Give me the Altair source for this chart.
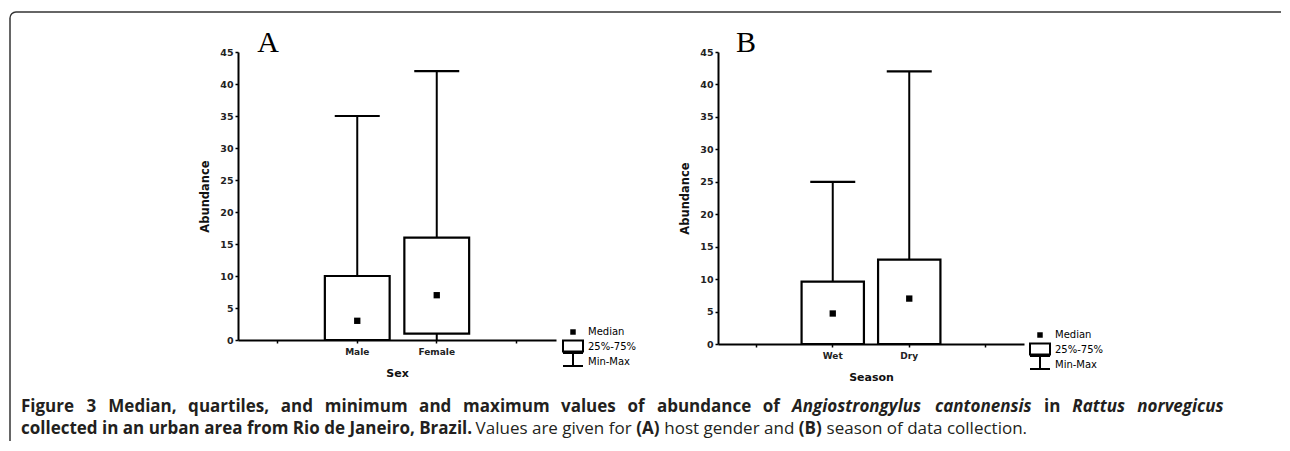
import math
import altair as alt
import pandas as pd

# ---------------- data ----------------
sex_domain = ["", "Male", "Female", " "]
sex_cats = ["Male", "Female"]
sex_min = [0, 0]
sex_q1 = [0, 1]
sex_med = [3, 7]
sex_q3 = [10, 16]
sex_max = [35, 42]

season_domain = ["", "Wet", "Dry", " "]
season_cats = ["Wet", "Dry"]
season_min = [0, 0]
season_q1 = [0, 0]
season_med = [4.7, 7]
season_q3 = [9.6, 13]
season_max = [25, 42]

y_ticks = [0, 5, 10, 15, 20, 25, 30, 35, 40, 45]

legend_labels = ["Median", "25%-75%", "Min-Max"]

# caption: (text, weight, style)
caption_line1 = [
    ("Figure 3 Median, quartiles, and minimum and maximum values of abundance of", "bold", "normal"),
    ("Angiostrongylus cantonensis", "bold", "italic"),
    ("in", "bold", "normal"),
    ("Rattus norvegicus", "bold", "italic"),
]
caption_line2 = [
    ("collected in an urban area from Rio de Janeiro, Brazil.", "bold", "normal"),
    ("Values are given for", "normal", "normal"),
    ("(A)", "bold", "normal"),
    ("host gender and", "normal", "normal"),
    ("(B)", "bold", "normal"),
    ("season of data collection.", "normal", "normal"),
]

AXFONT = "DejaVu Sans"
CAPFONT = "Open Sans"
CAPSIZE = 17
one = pd.DataFrame({"k": [0]})

# approximate Open Sans advance widths (em) for text layout of the caption
REG = dict(zip(" abcdefghijklmnopqrstuvwxyz,.()", [
    .26, .556, .613, .476, .613, .561, .339, .548, .614, .253, .253, .53, .253, .93,
    .614, .604, .613, .613, .408, .477, .353, .614, .501, .778, .524, .502, .47,
    .245, .266, .297, .297]))
REG.update({"A": .633, "B": .64, "F": .532, "M": .855, "R": .63, "J": .27, "V": .59})
BOLD = dict(zip(" abcdefghijklmnopqrstuvwxyz,.()", [
    .26, .586, .638, .511, .638, .593, .40, .567, .656, .304, .304, .61, .304, .974,
    .656, .618, .638, .638, .454, .497, .43, .656, .575, .858, .582, .575, .50,
    .283, .285, .345, .345]))
BOLD.update({"A": .704, "B": .68, "F": .576, "M": .927, "R": .68, "J": .342, "V": .667})


def text_width(s, weight, style):
    tab = BOLD if weight == "bold" else REG
    w = sum(tab.get(c, .572) for c in s)
    if style == "italic":
        w *= 0.95
    return w * CAPSIZE


def txt(text, x, y, size=10, weight="normal", style="normal", font=AXFONT,
        align="left", baseline="middle", color="black"):
    return alt.Chart(one).mark_text(
        text=text, font=font, fontSize=size, fontWeight=weight, fontStyle=style,
        align=align, baseline=baseline, color=color,
    ).encode(x=alt.value(x), y=alt.value(y))


def rule(x1, y1, x2, y2, w=2, color="black"):
    return alt.Chart(one).mark_rule(color=color, strokeWidth=w).encode(
        x=alt.value(x1), y=alt.value(y1), x2=alt.value(x2), y2=alt.value(y2)
    )


def panel(domain, cats, mn, q1, med, q3, mx, xtitle, w, h, letter, letter_x, leg):
    df = pd.DataFrame({"cat": cats, "mn": mn, "q1": q1, "med": med, "q3": q3, "mx": mx})
    xs = alt.Scale(domain=domain, paddingInner=0, paddingOuter=0)
    ys = alt.Scale(domain=[0, 45], nice=False, zero=True)
    xax = alt.Axis(
        title=xtitle, labelAngle=0, domainColor="black", domainWidth=2,
        tickColor="black", tickWidth=1.5, tickSize=3, labelPadding=4,
        labelFont=AXFONT, labelFontSize=9, labelFontWeight="bold", labelColor="#222",
        titleFont=AXFONT, titleFontSize=11, titleFontWeight="bold", titleColor="#111",
        titlePadding=11, grid=False,
    )
    yax = alt.Axis(
        title="Abundance", values=y_ticks, domainColor="black", domainWidth=2,
        tickColor="black", tickWidth=1.5, tickSize=3, labelPadding=2,
        labelFont=AXFONT, labelFontSize=9.5, labelFontWeight="bold", labelColor="#222",
        titleFont=AXFONT, titleFontSize=11.5, titleFontWeight="bold", titleColor="#111",
        titlePadding=9, grid=False,
    )
    X = alt.X("cat:N", scale=xs, axis=xax, sort=domain)
    base = alt.Chart(df)
    upper = base.mark_rule(color="black", strokeWidth=2).encode(
        x=X, y=alt.Y("q3:Q", scale=ys, axis=yax), y2="mx:Q")
    lower = base.mark_rule(color="black", strokeWidth=2).encode(
        x=X, y=alt.Y("mn:Q", scale=ys, axis=yax), y2="q1:Q")
    box = base.mark_bar(width=alt.RelativeBandSize(0.815), fill="white", stroke="black",
                        strokeWidth=2.2).encode(
        x=X, y=alt.Y("q1:Q", scale=ys, axis=yax), y2="q3:Q")
    cap = base.mark_tick(size=45, thickness=2.2, color="black", orient="horizontal",
                         opacity=1).encode(
        x=X, y=alt.Y("mx:Q", scale=ys, axis=yax))
    medp = base.mark_square(size=40, color="black", opacity=1).encode(
        x=X, y=alt.Y("med:Q", scale=ys, axis=yax))

    lx, ly = leg
    legend_layers = [
        alt.Chart(one).mark_square(size=30, color="black", opacity=1).encode(
            x=alt.value(lx + 10), y=alt.value(ly)),
        alt.Chart(one).mark_rect(fill="white", stroke="black", strokeWidth=2).encode(
            x=alt.value(lx), x2=alt.value(lx + 20), y=alt.value(ly + 8.5), y2=alt.value(ly + 19.5)),
        rule(lx, ly + 21, lx + 20, ly + 21),
        rule(lx + 10, ly + 21, lx + 10, ly + 34),
        rule(lx, ly + 34, lx + 20, ly + 34),
        txt(legend_labels[0], lx + 25, ly, size=10),
        txt(legend_labels[1], lx + 25, ly + 15, size=10),
        txt(legend_labels[2], lx + 25, ly + 30, size=10),
        txt(letter, letter_x, 0, size=30, font="Liberation Serif", align="center",
            baseline="alphabetic"),
    ]
    return alt.layer(upper, lower, box, cap, medp, *legend_layers).properties(width=w, height=h)


pA = panel(sex_domain, sex_cats, sex_min, sex_q1, sex_med, sex_q3, sex_max,
           "Sex", 318, 288, "A", 30, (325, 280))
pB = panel(season_domain, season_cats, season_min, season_q1, season_med, season_q3,
           season_max, "Season", 306, 292, "B", 28, (312, 283))

# spacer panel carrying the figure frame and caption (origin at page x 8, y 51)
OX = 8
cap_layers = [rule(0, -43, 3, -43, w=0.5, color="white")]
cap_layers.append(rule(1, -34, 1, 389, w=1.5, color="#333"))
cap_layers.append(rule(7, -40, 1272, -40, w=1.5, color="#333"))
cap_layers.append(
    alt.Chart(one).mark_arc(radius=6.7, radius2=5.3, theta=3 * math.pi / 2,
                            theta2=2 * math.pi, color="#333").encode(
        x=alt.value(7), y=alt.value(-34))
)

# line 1: justified between page x 20 and 1224, word by word
words1 = []
for seg, wgt, sty in caption_line1:
    for wd in seg.split(" "):
        words1.append((wd, wgt, sty))
widths1 = [text_width(wd, wgt, sty) for wd, wgt, sty in words1]
gap = (1224 - 20 - sum(widths1)) / (len(words1) - 1)
xpos = 20.0
for (wd, wgt, sty), wdt in zip(words1, widths1):
    cap_layers.append(txt(wd, xpos - OX, 360, size=CAPSIZE, weight=wgt, style=sty,
                          font=CAPFONT, baseline="alphabetic", color="#231f20"))
    xpos += wdt + gap

# line 2: natural spacing
xpos = 20.0
space = 0.26 * CAPSIZE
for seg, wgt, sty in caption_line2:
    cap_layers.append(txt(seg, xpos - OX, 382, size=CAPSIZE, weight=wgt, style=sty,
                          font=CAPFONT, baseline="alphabetic", color="#231f20"))
    xpos += text_width(seg, wgt, sty) + space

spacer = alt.layer(*cap_layers).properties(width=67, height=288)

chart = alt.hconcat(spacer, pA, pB, spacing=162, bounds="flush").properties(
    padding=0
).configure_view(stroke=None)

chart.save("out.html", embed_options={"renderer": "svg", "actions": False})
